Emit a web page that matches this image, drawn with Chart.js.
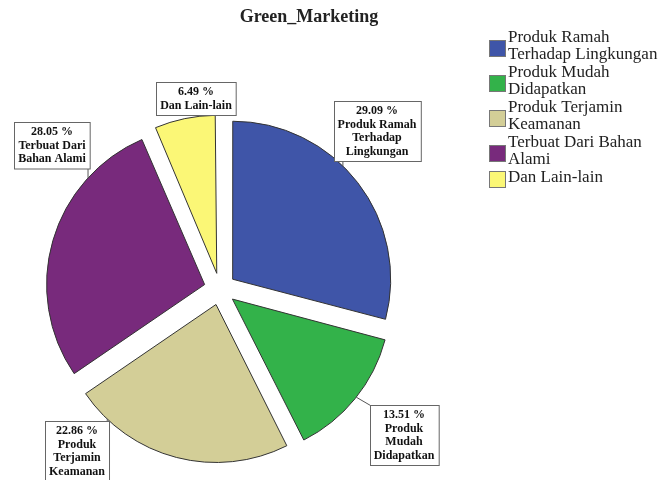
<!DOCTYPE html>
<html>
<head>
<meta charset="utf-8">
<title>Green_Marketing</title>
<script src="https://cdn.jsdelivr.net/npm/chart.js@4.4.0/dist/chart.umd.min.js"></script>
<style>
  html, body { margin: 0; padding: 0; background: #fff; }
  #wrap { width: 665px; height: 480px; }
</style>
</head>
<body>
<div id="wrap"><canvas id="pie" width="665" height="480"></canvas></div>
<script>
// category names as they are wrapped in the legend
const categories = [
  ['Produk Ramah', 'Terhadap Lingkungan'],
  ['Produk Mudah', 'Didapatkan'],
  ['Produk Terjamin', 'Keamanan'],
  ['Terbuat Dari Bahan', 'Alami'],
  ['Dan Lain-lain']
];
// same names as wrapped inside the slice callouts
const calloutLines = [
  ['Produk Ramah', 'Terhadap', 'Lingkungan'],
  ['Produk', 'Mudah', 'Didapatkan'],
  ['Produk', 'Terjamin', 'Keamanan'],
  ['Terbuat Dari', 'Bahan Alami'],
  ['Dan Lain-lain']
];
const percents = [29.09, 13.51, 22.86, 28.05, 6.49];
const colors = ['#3F55A8', '#33B24A', '#D3CE97', '#782A7C', '#FBF776'];

const PIE_R = 158;
const EXPLODE = 16;   // px each slice is pulled out
// where each callout box sits, offset from the pie centre in px
const calloutPos = [[157, -158], [184, 146], [-143, 162], [-168, -144], [-24, -191]];

const serif = '"Liberation Serif", "Times New Roman", serif';

// arc.draw grows small slices by (offset/4)*(1-sin(circ)); undo that so all share one radius
const keepRadius = {
  id: 'keepRadius',
  beforeDatasetsDraw(chart) {
    chart.getDatasetMeta(0).data.forEach(arc => {
      const o = (arc.options.offset || 0) / 4;
      const fix = 1 - Math.sin(Math.min(Math.PI, arc.circumference));
      arc.outerRadius = PIE_R - o * fix;
    });
  }
};

const callouts = {
  id: 'callouts',
  afterDatasetsDraw(chart) {
    const ctx = chart.ctx;
    const arcs = chart.getDatasetMeta(0).data;
    ctx.save();
    ctx.font = 'bold 12px ' + serif;
    ctx.textAlign = 'center';
    ctx.textBaseline = 'middle';
    arcs.forEach((arc, i) => {
      const lines = [percents[i].toFixed(2) + ' %'].concat(calloutLines[i]);
      const lh = 13.5;
      const w = Math.max(...lines.map(t => ctx.measureText(t).width)) + 8;
      const h = lines.length * lh + 6;
      const bx = arc.x + calloutPos[i][0];
      const by = arc.y + calloutPos[i][1];
      const left = Math.round(bx - w / 2) + 0.5, top = Math.round(by - h / 2) + 0.5;

      // leader from the slice rim to the box
      const mid = (arc.startAngle + arc.endAngle) / 2;
      const ex = arc.x + Math.cos(mid) * EXPLODE, ey = arc.y + Math.sin(mid) * EXPLODE;
      let a = Math.atan2(by - ey, bx - ex);
      while (a < arc.startAngle) a += Math.PI * 2;
      while (a > arc.startAngle + Math.PI * 2) a -= Math.PI * 2;
      if (a > arc.endAngle) a = (a - arc.endAngle < arc.startAngle + Math.PI * 2 - a) ? arc.endAngle : arc.startAngle;
      const px = ex + Math.cos(a) * PIE_R, py = ey + Math.sin(a) * PIE_R;
      const qx = Math.min(Math.max(px, left), left + w), qy = Math.min(Math.max(py, top), top + h);
      ctx.strokeStyle = '#555';
      ctx.lineWidth = 1;
      ctx.beginPath();
      ctx.moveTo(px, py);
      ctx.lineTo(qx, qy);
      ctx.stroke();

      ctx.fillStyle = '#fff';
      ctx.fillRect(left, top, w, h);
      ctx.strokeStyle = '#666';
      ctx.strokeRect(left, top, w, h);
      ctx.fillStyle = '#111';
      lines.forEach((t, k) => ctx.fillText(t, bx, top + 3 + lh / 2 + k * lh));
    });
    ctx.restore();
  }
};

const titleAndLegend = {
  id: 'titleAndLegend',
  afterDraw(chart) {
    const ctx = chart.ctx;
    ctx.save();
    ctx.fillStyle = '#222';
    ctx.textAlign = 'center';
    ctx.textBaseline = 'middle';
    ctx.font = 'bold 18px ' + serif;
    ctx.fillText('Green_Marketing', 309, 17);

    ctx.font = '17px ' + serif;
    ctx.textAlign = 'left';
    const lh = 17;
    let y = 38;
    categories.forEach((lines, i) => {
      const midY = y + (lines.length - 1) * lh / 2 + 1;
      ctx.fillStyle = colors[i];
      ctx.fillRect(489.5, Math.round(midY - 8) + 0.5, 16, 16);
      ctx.strokeStyle = '#777';
      ctx.strokeRect(489.5, Math.round(midY - 8) + 0.5, 16, 16);
      ctx.fillStyle = '#222';
      lines.forEach((t, k) => ctx.fillText(t, 508, y + k * lh));
      y += lines.length * lh + 1;
    });
    ctx.restore();
  }
};

new Chart(document.getElementById('pie'), {
  type: 'pie',
  data: {
    labels: categories.map(l => l.join(' ')),
    datasets: [{
      data: percents,
      backgroundColor: colors,
      borderColor: '#333',
      borderWidth: 1,
      offset: EXPLODE * 4,
      hoverOffset: 0,
      radius: PIE_R
    }]
  },
  options: {
    responsive: false,
    animation: false,
    events: [],
    layout: { padding: { left: 0, right: 225, top: 98, bottom: 0 } },
    plugins: {
      legend: { display: false },
      tooltip: { enabled: false },
      title: { display: false }
    }
  },
  plugins: [keepRadius, callouts, titleAndLegend]
});
</script>
</body>
</html>
